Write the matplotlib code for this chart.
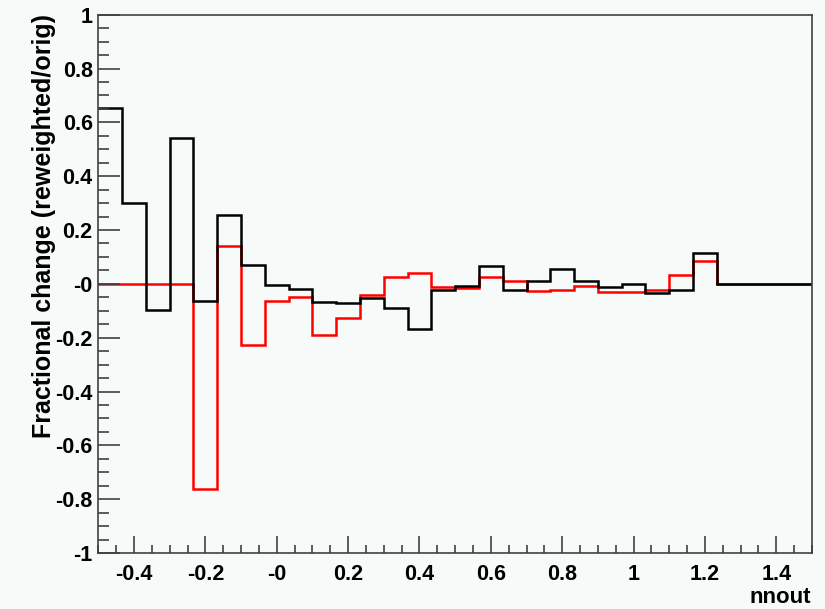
import numpy as np
import matplotlib
matplotlib.use("Agg")
import matplotlib.pyplot as plt
from matplotlib.ticker import MultipleLocator, FuncFormatter

# 30 bins from -0.5 to 1.5
bin_edges = np.linspace(-0.5, 1.5, 31)
black_vals = [0.655, 0.300, -0.098, 0.541, -0.063, 0.254, 0.070, -0.006, -0.019, -0.066,
              -0.072, -0.053, -0.090, -0.166, -0.022, -0.008, 0.065, -0.023, 0.010, 0.056,
              0.010, -0.013, 0.000, -0.033, -0.023, 0.115, 0.0, 0.0, 0.0, 0.0]
red_vals = [0.0, 0.0, 0.0, 0.0, -0.763, 0.140, -0.227, -0.062, -0.050, -0.189,
            -0.127, -0.042, 0.024, 0.039, -0.013, -0.017, 0.025, 0.010, -0.027, -0.022,
            -0.008, -0.029, -0.029, -0.023, 0.032, 0.085, 0.0, 0.0, 0.0, 0.0]
x_label = "nnout"
y_label = "Fractional change (reweighted/orig)"

bg = "#f6faf8"
font = "Liberation Sans"
W, H = 825, 609
fig = plt.figure(figsize=(W / 100, H / 100), dpi=100, facecolor=bg)
ax = fig.add_axes([98.3 / W, 1 - 553 / H, (812 - 98.3) / W, (553 - 14.7) / H])
ax.set_facecolor(bg)

ax.stairs(red_vals, bin_edges, baseline=None, color="#ff0000", linewidth=1.8)
ax.stairs(black_vals, bin_edges, baseline=None, color="black", linewidth=1.8)

ax.set_xlim(-0.5, 1.5)
ax.set_ylim(-1, 1)

ax.xaxis.set_major_locator(MultipleLocator(0.2))
ax.xaxis.set_minor_locator(MultipleLocator(0.05))
ax.yaxis.set_major_locator(MultipleLocator(0.2))
ax.yaxis.set_minor_locator(MultipleLocator(0.05))

def fmt(v, pos):
    r = round(v, 6)
    if abs(r) < 1e-9:
        return "-0"
    s = ("%.1f" % r)
    if s.endswith(".0"):
        s = s[:-2]
    return s

ax.xaxis.set_major_formatter(FuncFormatter(fmt))
ax.yaxis.set_major_formatter(FuncFormatter(fmt))

tick_col = "#404040"
ax.tick_params(axis="both", which="both", direction="in", colors=tick_col,
               top=False, right=False, width=1.2)
ax.tick_params(axis="x", which="major", length=12, pad=8)
ax.tick_params(axis="x", which="minor", length=6)
ax.tick_params(axis="y", which="major", length=16, pad=4)
ax.tick_params(axis="y", which="minor", length=8)
for lab in ax.get_xticklabels() + ax.get_yticklabels():
    lab.set_fontfamily(font)
    lab.set_fontweight("bold")
    lab.set_fontsize(15.5)
    lab.set_color("black")
for sp in ax.spines.values():
    sp.set_color(tick_col)
    sp.set_linewidth(1.2)

fig.text(44 / W, 1 - 14 / H, y_label, rotation=90, ha="center", va="top",
         fontfamily=font, fontweight="bold", fontsize=18)
fig.text(811 / W, 1 - 603 / H, x_label, ha="right", va="baseline",
         fontfamily=font, fontweight="bold", fontsize=16)

fig.savefig("out.png", dpi=100, facecolor=bg)
